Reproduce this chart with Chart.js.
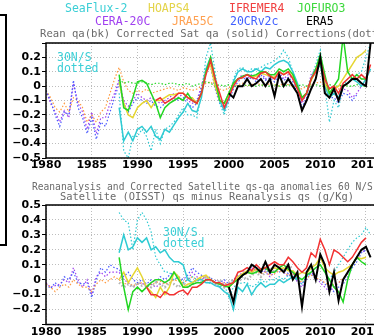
<!DOCTYPE html>
<html>
<head>
<meta charset="utf-8">
<script src="https://cdn.jsdelivr.net/npm/chart.js@4.4.0/dist/chart.umd.min.js"></script>
<style>
  html, body { margin: 0; padding: 0; background: #fff; }
  body { width: 374px; height: 336px; overflow: hidden; position: relative; }
  canvas { position: absolute; left: 0; }
  .t { position: absolute; white-space: pre; font-family: 'DejaVu Sans Mono', monospace; line-height: 1; }
  .gray { color: #6a6a6a; }
  #box { position: absolute; left: -12px; top: 14px; width: 15px; height: 228px; border: 2px solid #000; }
</style>
</head>
<body>
<div id="box"></div>
<canvas id="topChart" width="430" height="175" style="top:0"></canvas>
<canvas id="botChart" width="430" height="156" style="top:180px"></canvas>

<div class="t" style="left:65px;top:3px;font-size:11.5px;color:#3ccfd6">SeaFlux-2</div>
<div class="t" style="left:148px;top:3px;font-size:11.5px;color:#e4d44a">HOAPS4</div>
<div class="t" style="left:229px;top:3px;font-size:11.5px;color:#f04040">IFREMER4</div>
<div class="t" style="left:297px;top:3px;font-size:11.5px;color:#3cd83c">JOFURO3</div>
<div class="t" style="left:95px;top:16px;font-size:11.5px;color:#a040f0">CERA-20C</div>
<div class="t" style="left:172px;top:16px;font-size:11.5px;color:#ffa050">JRA55C</div>
<div class="t" style="left:230px;top:16px;font-size:11.5px;color:#4060ff">20CRv2c</div>
<div class="t" style="left:306px;top:16px;font-size:11.5px;color:#000">ERA5</div>
<div class="t gray" style="left:40px;top:28px;font-size:10.6px">Rean qa(bk) Corrected Sat qa (solid) Corrections(dotted)</div>
<div class="t" style="left:57px;top:52px;font-size:11.5px;color:#3ccfd6">30N/S</div>
<div class="t" style="left:57px;top:63px;font-size:11.5px;color:#3ccfd6">dotted</div>

<div class="t gray" style="left:32px;top:182px;font-size:9.6px">Reananalysis and Corrected Satellite qs-qa anomalies 60 N/S</div>
<div class="t gray" style="left:60px;top:191px;font-size:10.4px">Satellite (OISST) qs minus Reanalysis qs (g/Kg)</div>
<div class="t" style="left:163px;top:227px;font-size:11.5px;color:#3ccfd6">30N/S</div>
<div class="t" style="left:163px;top:238px;font-size:11.5px;color:#3ccfd6">dotted</div>

<script>
// every series is sampled in half-year steps from its first year
const STEP = 0.5;

// ---------- top panel: qa corrections (g/kg) ----------
const ceraTop = [
  -0.03, -0.12, -0.18, -0.25, -0.17, -0.22, 0.02, -0.12, -0.18, -0.30,   // 1980-84
  -0.18, -0.33, -0.22, -0.22, -0.12, -0.05, 0.05, -0.10, -0.14, -0.10,   // 1985-89
  -0.05, -0.08, -0.10, -0.08, -0.10, -0.12, -0.10, -0.08, -0.05, -0.08,  // 1990-94
  -0.05, -0.10, -0.12, -0.10, 0.00, 0.12, 0.15, 0.00, -0.10, -0.15,      // 1995-99
  -0.08, 0.00, 0.05, 0.08, 0.05, 0.08, 0.05, 0.10, 0.05, 0.08,           // 2000-04
  0.05, 0.10, 0.05, 0.08, 0.05, -0.02, -0.12, -0.05, 0.08, 0.12,         // 2005-09
  0.20, 0.05, -0.05, -0.05, -0.10, -0.02, -0.03, -0.08, -0.05, 0.00,     // 2010-14
  0.02
];
const jraTop = [
  -0.03, -0.08, -0.15, -0.18, -0.12, -0.18, -0.08, -0.10, -0.15, -0.25,
  -0.20, -0.25, -0.18, -0.15, -0.05, 0.05, 0.13, 0.03, -0.03, -0.05,
  -0.03, -0.04, -0.02, -0.05, -0.04, -0.03, -0.02, -0.01, -0.02, -0.03,
  -0.01, -0.02, -0.03, -0.02, 0.00, 0.02, 0.03, 0.00, -0.02, -0.03,
  -0.01, 0.00, 0.01, 0.02, 0.00, 0.01, 0.02, 0.01, 0.00, 0.02,
  0.01, 0.00, 0.02, 0.01, 0.00, -0.01, -0.02, 0.00, 0.01, 0.02,
  0.03, 0.00, -0.01, 0.00, -0.02, 0.00, 0.01
];
const crTop = [
  -0.03, -0.10, -0.20, -0.28, -0.18, -0.20, 0.04, -0.15, -0.22, -0.33,
  -0.22, -0.37, -0.25, -0.28, -0.18, -0.08, 0.02, -0.12, -0.18, -0.12,
  -0.08, -0.10, -0.12, -0.10, -0.14, -0.15, -0.12, -0.10, -0.08, -0.10,
  -0.08, -0.12, -0.15, -0.12, -0.02, 0.10, 0.14, -0.02, -0.12, -0.17,
  -0.10, -0.02, 0.03, 0.06, 0.04, 0.06, 0.03, 0.08, 0.04, 0.06,
  0.03, 0.08, 0.04, 0.06, 0.03, -0.05, -0.15, -0.08, 0.05, 0.10,
  0.15, 0.02, -0.08, -0.08, -0.12, -0.05, -0.06, -0.10, -0.06
];
const seafluxDotTop = [  // from 1988
  -0.05, -0.45, -0.50, -0.35, -0.35, -0.30, -0.35, -0.45, -0.30, -0.40,
  -0.30, -0.28, -0.25, -0.20, -0.15, -0.20, -0.20, -0.22, -0.05, 0.20,
  0.30, 0.10, -0.12, -0.20, -0.10, 0.05, 0.12, 0.13, 0.10, 0.12,
  0.12, 0.13, 0.15, 0.16, 0.18, 0.20, 0.25, 0.20, 0.10, 0.00,
  -0.10, -0.05, 0.05, 0.15, 0.25, 0.00, -0.25, -0.10, -0.15, 0.00,
  0.05, 0.05, 0.08, 0.10, 0.20, 0.30
];
const seafluxTop = [  // from 1988
  -0.15, -0.38, -0.32, -0.38, -0.30, -0.28, -0.32, -0.28, -0.35, -0.37,
  -0.30, -0.32, -0.27, -0.22, -0.18, -0.12, -0.17, -0.18, -0.08, 0.12,
  0.20, 0.05, -0.10, -0.17, -0.08, 0.03, 0.10, 0.12, 0.10, 0.10,
  0.12, 0.10, 0.13, 0.12, 0.15, 0.17, 0.18, 0.16, 0.10, 0.02,
  -0.08, -0.05, 0.05, 0.10, 0.15, 0.00, -0.08, -0.05, -0.08, 0.00,
  0.02, 0.05, 0.03, 0.00, 0.05, 0.12
];
const hoapsTop = [  // from 1988
  0.03, -0.12, -0.20, -0.22, -0.15, -0.12, -0.10, -0.15, -0.10, -0.10,
  -0.08, -0.06, -0.06, -0.05, -0.05, -0.08, -0.08, -0.12, -0.05, 0.10,
  0.15, 0.00, -0.10, -0.12, -0.05, 0.02, 0.05, 0.06, 0.08, 0.06,
  0.07, 0.09, 0.08, 0.07, 0.06, 0.10, 0.08, 0.10, 0.06, 0.00,
  -0.08, -0.05, 0.04, 0.10, 0.18, 0.02, -0.05, -0.02, 0.00, 0.05,
  0.10, 0.15, 0.20, 0.22, 0.25
];
const jofuroTop = [  // from 1988
  0.08, -0.15, -0.17, -0.08, 0.03, 0.04, 0.02, -0.05, -0.12, -0.22,
  -0.15, -0.12, -0.10, -0.08, -0.10, -0.05, -0.10, -0.12, -0.05, 0.10,
  0.20, 0.05, -0.10, -0.12, -0.05, 0.02, 0.05, 0.07, 0.08, 0.07,
  0.08, 0.10, 0.10, 0.08, 0.08, 0.12, 0.10, 0.12, 0.08, 0.00,
  -0.08, -0.05, 0.05, 0.12, 0.22, 0.08, -0.05, 0.00, 0.05, 0.35,
  0.10, 0.05, 0.08, 0.05, 0.05
];
const ifremerTop = [  // from 1992
  -0.10, -0.08, -0.12, -0.10, -0.08, -0.05, -0.05, -0.08, -0.10, -0.12,
  -0.05, 0.08, 0.18, 0.05, -0.05, -0.15, -0.08, 0.00, 0.05, 0.06,
  0.08, 0.06, 0.05, 0.09, 0.10, 0.07, 0.05, 0.10, 0.08, 0.10,
  0.05, -0.02, -0.10, -0.05, 0.05, 0.10, 0.18, 0.05, -0.02, 0.00,
  -0.05, 0.02, 0.05, 0.08, 0.05, 0.08, 0.05, 0.15
];
const era5Top = [  // from 2000
  -0.05, -0.08, 0.00, 0.00, 0.05, 0.00, 0.02, 0.05, 0.00, 0.05,
  -0.07, 0.08, 0.00, 0.05, 0.00, -0.05, -0.17, -0.10, -0.02, 0.05,
  0.20, -0.05, -0.08, -0.02, -0.10, 0.00, 0.02, 0.05, 0.05, 0.02,
  0.00, 0.30
];
const corrTop = [  // from 1988, green dotted corrections
  0.05, 0.02, 0.03, 0.02, 0.02, 0.03, 0.02, 0.01, 0.02, 0.02,
  0.01, 0.02, 0.02, 0.01, 0.01, 0.02, 0.00, 0.01, 0.02, 0.03,
  0.02, 0.00, 0.01, 0.00, 0.01, 0.00, 0.00, 0.00, 0.01, 0.00,
  0.00, 0.01, 0.00, 0.00, 0.01, 0.00, 0.00, 0.01, 0.00, 0.00,
  0.01, 0.00, 0.00, 0.01, 0.00, 0.00, 0.01, 0.00, 0.00, 0.01,
  0.00, 0.00, 0.01, 0.00, 0.00
];

// ---------- bottom panel: qs-qa anomalies (g/kg) ----------
const ceraBot = [
  -0.02, -0.05, -0.04, -0.03, 0.00, -0.02, 0.08, 0.00, -0.05, 0.00,
  -0.10, 0.02, 0.05, 0.02, 0.05, 0.05, 0.05, 0.00, -0.02, -0.05,
  -0.03, -0.02, -0.05, -0.03, -0.05, -0.03, -0.02, 0.00, 0.00, 0.02,
  -0.02, 0.00, 0.05, 0.02, 0.00, 0.02, -0.02, 0.00, -0.05, -0.02,
  -0.05, -0.02, 0.02, 0.05, 0.05, 0.08, 0.05, 0.08, 0.05, 0.02,
  0.05, 0.08, 0.05, 0.02, 0.05, -0.02, -0.05, 0.00, 0.05, 0.02,
  -0.02, -0.05, -0.08, -0.05, -0.02, 0.00, 0.05, 0.10, 0.15, 0.20,
  0.18
];
const crBot = [
  -0.03, -0.06, -0.02, -0.05, 0.02, 0.00, 0.05, -0.02, -0.03, -0.02,
  -0.12, 0.00, 0.08, 0.05, 0.10, 0.08, 0.07, 0.02, 0.05, 0.00,
  -0.02, 0.00, -0.03, 0.00, -0.02, 0.02, 0.00, 0.03, 0.05, 0.02,
  0.00, 0.03, 0.08, 0.05, 0.03, 0.00, 0.02, -0.03, -0.02, 0.00,
  -0.03, 0.00, 0.03, 0.03, 0.06, 0.05, 0.08, 0.05, 0.07, 0.04,
  0.06, 0.05, 0.07, 0.04, 0.06, 0.00, -0.03, 0.02, 0.04, 0.00,
  0.00, -0.03, -0.05, -0.08, -0.05, -0.03, 0.02, 0.08, 0.12, 0.18,
  0.20
];
const jraBot = [
  -0.03, -0.05, -0.08, -0.05, -0.03, -0.05, 0.00, -0.03, -0.05, -0.05,
  -0.08, -0.03, 0.00, -0.02, 0.00, 0.02, 0.00, -0.03, -0.02, -0.04,
  -0.03, -0.02, -0.04, -0.03, -0.02, -0.01, -0.03, -0.02, 0.00, -0.01,
  -0.02, 0.00, 0.02, 0.00, 0.01, 0.02, 0.00, -0.02, -0.03, -0.02,
  -0.04, -0.01, 0.01, 0.03, 0.04, 0.05, 0.06, 0.04, 0.05, 0.03,
  0.04, 0.06, 0.05, 0.03, 0.04, 0.01, -0.02, 0.01, 0.03, 0.01,
  0.00, -0.02, -0.04, -0.03, -0.02, 0.01, 0.04
];
const corrBot = [  // from 1988, gray dotted corrections
  -0.02, -0.05, -0.03, -0.05, -0.02, -0.04, -0.03, -0.05, -0.02, -0.03,
  -0.05, -0.02, -0.03, -0.05, -0.02, -0.05, -0.03, 0.00, -0.02, 0.02,
  0.00, -0.03, 0.00, -0.05, -0.02, 0.00, -0.02, 0.02, 0.00, 0.03,
  0.05, 0.02, 0.05, 0.08, 0.05, 0.08, 0.06, 0.10, 0.07
];
const seafluxDotBot = [  // from 1988
  0.45, 0.40, 0.38, 0.20, 0.40, 0.45, 0.40, 0.32, 0.15, 0.10,
  0.05, 0.05, 0.00, 0.02, -0.02, 0.00, 0.02, 0.00, -0.02, 0.00,
  -0.03, -0.02, -0.05, -0.03, -0.12, -0.05, -0.03, -0.02, -0.02, -0.05,
  -0.03, 0.00, -0.02, 0.00, 0.00, 0.02, 0.00, 0.03, 0.02, 0.00,
  -0.03, 0.02, 0.05, 0.08, 0.10, 0.05, 0.00, 0.05, 0.10, 0.15,
  0.20, 0.25, 0.28, 0.30, 0.35, 0.30
];
const seafluxBot = [  // from 1988
  0.18, 0.30, 0.20, 0.22, 0.28, 0.25, 0.28, 0.20, 0.22, 0.18,
  0.20, 0.15, 0.12, 0.12, 0.10, 0.00, -0.02, 0.00, 0.00, -0.02,
  -0.02, -0.04, -0.05, -0.08, -0.10, -0.20, -0.05, -0.08, -0.03, -0.10,
  -0.05, -0.02, -0.05, -0.03, -0.03, 0.00, -0.02, 0.00, 0.02, 0.00
];
const hoapsBot = [  // from 1988
  0.00, 0.05, -0.02, 0.03, 0.08, 0.02, -0.05, -0.08, -0.12, -0.05,
  -0.10, -0.05, 0.05, 0.02, -0.05, -0.03, -0.02, 0.00, 0.02, 0.03,
  0.00, -0.02, -0.03, -0.04, -0.05, -0.02, 0.02, 0.04, 0.06, 0.05,
  0.07, 0.06, 0.08, 0.06, 0.08, 0.07, 0.08, 0.06, 0.06, 0.03,
  0.05, 0.04, 0.08, 0.10, 0.15, 0.08, 0.05, 0.03, 0.05, 0.06,
  0.08, 0.10, 0.15, 0.14, 0.15
];
const jofuroBot = [  // from 1988
  0.15, -0.05, -0.20, -0.08, -0.05, -0.08, -0.05, -0.02, 0.00, 0.00,
  -0.02, 0.00, 0.05, 0.00, -0.05, -0.05, -0.03, -0.02, -0.02, 0.00,
  0.00, -0.02, -0.03, -0.04, -0.05, -0.02, 0.00, 0.03, 0.05, 0.04,
  0.05, 0.07, 0.08, 0.05, 0.05, 0.08, 0.10, 0.07, 0.05, 0.02,
  0.00, 0.03, 0.05, 0.08, 0.10, 0.05, 0.00, -0.05, -0.08, -0.15,
  0.00, 0.10, 0.15, 0.12, 0.10
];
const ifremerBot = [  // from 1991
  -0.05, -0.10, -0.10, -0.12, -0.08, -0.10, -0.10, -0.08, -0.07, -0.10,
  -0.05, -0.05, -0.03, 0.00, 0.00, -0.02, -0.02, -0.04, -0.03, -0.02,
  0.05, 0.06, 0.08, 0.06, 0.10, 0.07, 0.08, 0.10, 0.12, 0.10,
  0.10, 0.15, 0.12, 0.08, 0.05, 0.08, 0.18, 0.15, 0.27, 0.20,
  0.10, 0.20, 0.18, 0.15, 0.12, 0.15, 0.20, 0.25, 0.28
];
const era5Bot = [  // from 2000
  -0.05, -0.15, 0.00, 0.03, 0.05, 0.10, 0.08, 0.05, 0.12, 0.05,
  0.10, 0.08, 0.05, 0.10, 0.00, 0.05, -0.18, 0.05, 0.10, 0.00,
  0.17, 0.10, -0.08, 0.05, -0.14, 0.00, 0.05, 0.10, 0.15, 0.20,
  0.22, 0.15
];

const C = {
  cyan: '#2fcbd3', yellow: '#e6d632', red: '#f23232', green: '#22d622',
  purple: '#a040f0', orange: '#ff9a40', blue: '#4a5aff', black: '#000000', gray: '#b4b4b4'
};

function pts(start, vals) {
  return vals.map((v, i) => ({ x: start + i * STEP, y: v }));
}

function line(start, vals, color, width, dotted) {
  return {
    data: pts(start, vals),
    borderColor: color,
    borderWidth: width,
    borderDash: dotted ? [1.5, 2] : [],
    pointRadius: 0,
    tension: 0,
    fill: false
  };
}

// draws the closed black box around the plot area
const frame = {
  id: 'frame',
  afterDatasetsDraw(chart) {
    const a = chart.chartArea, ctx = chart.ctx;
    ctx.save();
    ctx.strokeStyle = '#000';
    ctx.lineWidth = 1.5;
    ctx.strokeRect(a.left, a.top, a.right - a.left, a.bottom - a.top);
    ctx.restore();
  }
};

function fmt(hide) {
  return function(v) {
    if (Math.abs(v - hide) < 1e-6) return '';
    if (Math.abs(v) < 1e-6) return '0';
    return v.toFixed(1).replace('-', '\u2212');
  };
}

function makeOptions(yMin, yMax, hideY, pad, xHeight) {
  const tickFont = { family: 'DejaVu Sans', weight: 'bold', size: 11 };
  return {
    responsive: false,
    animation: false,
    layout: { padding: pad },
    plugins: { legend: { display: false }, tooltip: { enabled: false } },
    scales: {
      x: {
        type: 'linear', min: 1980, max: 2020,
        afterFit: s => { s.height = xHeight; },
        ticks: { stepSize: 5, autoSkip: false, maxRotation: 0, padding: 1, color: '#000', font: tickFont,
                 callback: v => (v >= 2020 ? '' : String(v)) },
        grid: { color: '#bdbdbd', lineWidth: 1, drawTicks: false },
        border: { display: false, dash: [1, 2] }
      },
      y: {
        min: yMin, max: yMax,
        afterFit: s => { s.width = 46; },
        ticks: { stepSize: 0.1, autoSkip: false, padding: 1, color: '#000', font: tickFont, callback: fmt(hideY) },
        grid: { color: '#bdbdbd', lineWidth: 1, drawTicks: true, tickLength: 4, tickColor: '#000', tickWidth: 1 },
        border: { display: false, dash: [1, 2] }
      }
    }
  };
}

new Chart(document.getElementById('topChart'), {
  type: 'line',
  data: {
    datasets: [
      line(2000, era5Top, C.black, 2, false),
      line(1992, ifremerTop, C.red, 1.5, false),
      line(1988, jofuroTop, C.green, 1.5, false),
      line(1988, hoapsTop, C.yellow, 1.5, false),
      line(1988, seafluxTop, C.cyan, 1.5, false),
      line(1988, corrTop, C.green, 1.2, true),
      line(1988, seafluxDotTop, C.cyan, 1.2, true),
      line(1980, crTop, C.blue, 1.2, true),
      line(1980, jraTop, C.orange, 1.2, true),
      line(1980, ceraTop, C.purple, 1.2, true)
    ]
  },
  options: makeOptions(-0.5, 0.3, 0.3, { top: 43, left: 0, right: 18.3, bottom: 3 }, 14),
  plugins: [frame]
});

new Chart(document.getElementById('botChart'), {
  type: 'line',
  data: {
    datasets: [
      line(2000, era5Bot, C.black, 2, false),
      line(1991, ifremerBot, C.red, 1.5, false),
      line(1988, jofuroBot, C.green, 1.5, false),
      line(1988, hoapsBot, C.yellow, 1.5, false),
      line(1988, seafluxBot, C.cyan, 1.5, false),
      line(1988, seafluxDotBot, C.cyan, 1.2, true),
      line(1988, corrBot, C.gray, 2.5, true),
      line(1980, jraBot, C.orange, 1.2, true),
      line(1980, crBot, C.blue, 1.2, true),
      line(1980, ceraBot, C.purple, 1.2, true)
    ]
  },
  options: makeOptions(-0.3, 0.5, -0.3, { top: 25, left: 0, right: 18.3, bottom: 0.5 }, 11),
  plugins: [frame]
});
</script>
</body>
</html>
